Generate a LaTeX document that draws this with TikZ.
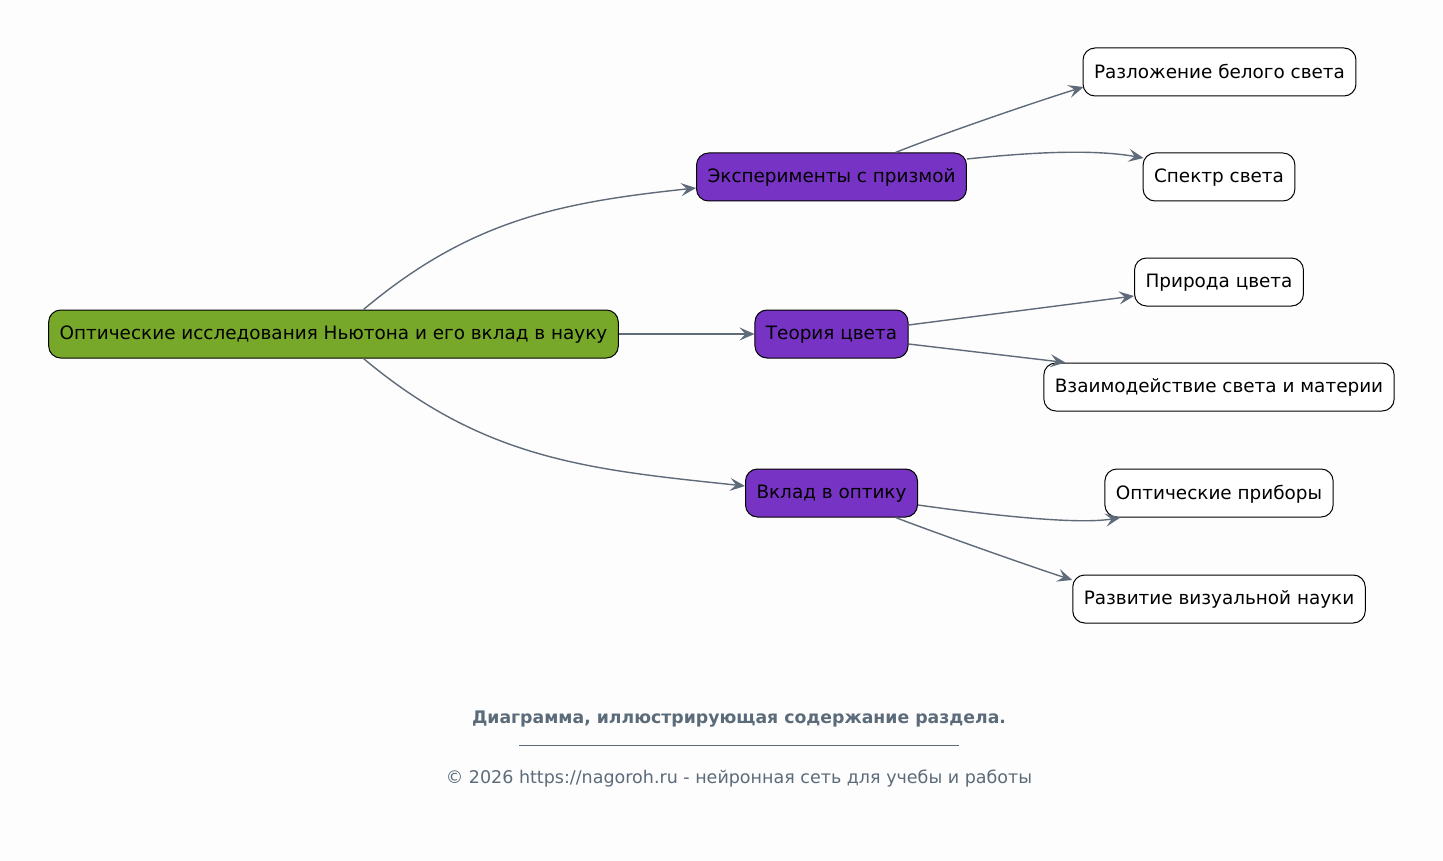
\documentclass[tikz,border=0pt]{standalone}
\usepackage{fontspec}
\setmainfont{DejaVu Sans}
\usepackage{xcolor}
\usetikzlibrary{arrows.meta}
\definecolor{rootgreen}{HTML}{77A82A}
\definecolor{topicviolet}{HTML}{7733C4}
\definecolor{edgegray}{HTML}{5F6B78}
\definecolor{capgray}{HTML}{5C6B7A}
\definecolor{bggray}{HTML}{FDFDFD}

\begin{document}
\begin{tikzpicture}[x=1pt,y=1pt,
			box/.style={rounded corners=12pt,draw=black,line width=1pt,
				minimum height=48pt,inner xsep=11pt,text depth=0.22em,
				font=\fontsize{18.4}{22}\selectfont},
			rootbox/.style={box,fill=rootgreen},
			topicbox/.style={box,fill=topicviolet},
			leafbox/.style={box,fill=white},
			edge/.style={draw=edgegray,line width=1.4pt,
				-{Stealth[length=15pt,width=13pt,inset=6pt]}}]
		\fill[bggray] (0,0) rectangle (1443,-861);
		\useasboundingbox (0,0) rectangle (1443,-861);
		% nodes
		\node[rootbox] (root) at (333.5,-334) {Оптические исследования Ньютона и его вклад в науку};
		\node[topicbox] (prism) at (831.5,-177) {Эксперименты с призмой};
		\node[topicbox] (theory) at (831.5,-334) {Теория цвета};
		\node[topicbox] (optics) at (831.5,-493) {Вклад в оптику};
		\node[leafbox] (white) at (1219.5,-72) {Разложение белого света};
		\node[leafbox] (spectrum) at (1219,-177) {Спектр света};
		\node[leafbox] (nature) at (1219,-282) {Природа цвета};
		\node[leafbox] (matter) at (1219,-387) {Взаимодействие света и материи};
		\node[leafbox] (devices) at (1219,-493) {Оптические приборы};
		\node[leafbox] (vision) at (1219,-599) {Развитие визуальной науки};
		% edges
		\draw[edge] ([xshift=30pt]root.north) to[out=40,in=186] ([yshift=-11pt]prism.west);
		\draw[edge] (root.east) -- (theory.west);
		\draw[edge] ([xshift=30pt]root.south) to[out=-40,in=174] ([yshift=7pt]optics.west);
		\draw[edge] ([xshift=64pt]prism.north) to[out=22,in=197,looseness=0.6] ([yshift=-15pt,xshift=1pt]white.west);
		\draw[edge] ([yshift=18pt]prism.east) to[out=6,in=170,looseness=0.8] ([yshift=19pt,xshift=1pt]spectrum.west);
		\draw[edge] ([yshift=9pt]theory.east) -- ([yshift=-14pt]nature.west);
		\draw[edge] ([yshift=-10pt]theory.east) -- ([xshift=22pt]matter.north west);
		\draw[edge] ([yshift=-12pt]optics.east) to[out=-8,in=190,looseness=0.6] ([xshift=16pt]devices.south west);
		\draw[edge] ([xshift=64pt]optics.south) to[out=-21,in=162,looseness=0.6] ([yshift=19pt]vision.west);
		% caption
		\node[text=capgray,font=\bfseries\fontsize{17.3}{20}\selectfont] (caption) at (739,-719) {Диаграмма, иллюстрирующая содержание раздела.};
		\coordinate (ruleL) at (519,-745);
		\coordinate (ruleR) at (959,-745);
		\draw[capgray,line width=0.8pt] (ruleL) -- (ruleR);
		\node[text=capgray,font=\fontsize{17.5}{20}\selectfont] (copyright) at (739,-779) {© 2026 https://nagoroh.ru - нейронная сеть для учебы и работы};
\end{tikzpicture}
\end{document}
